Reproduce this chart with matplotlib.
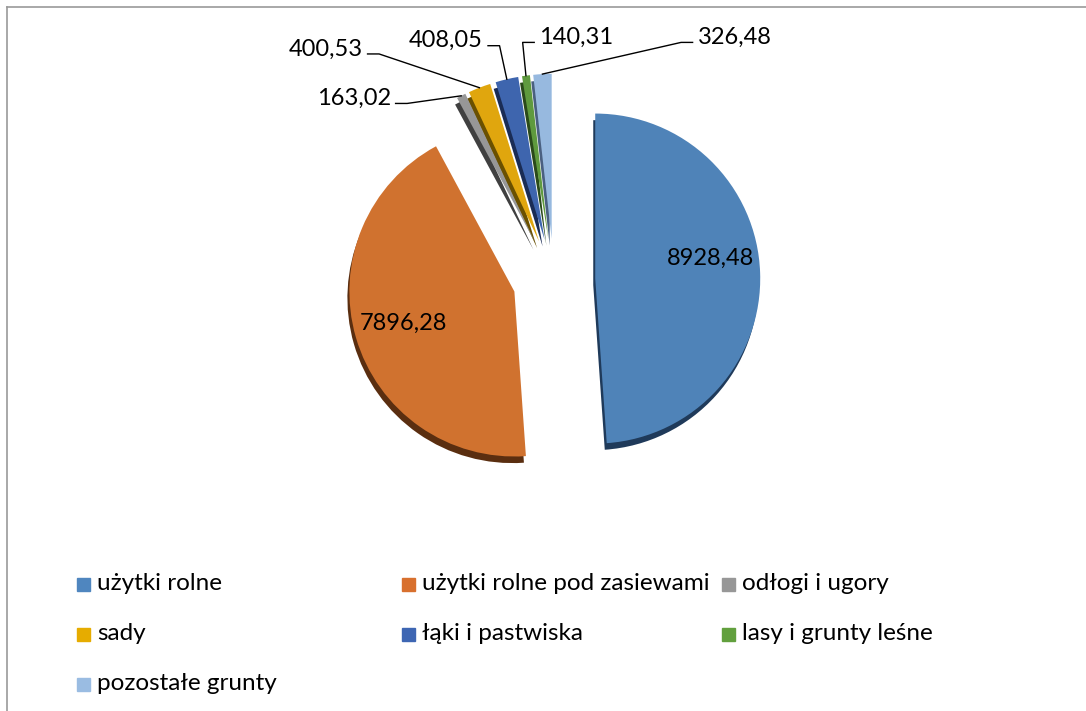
import matplotlib.pyplot as plt
import numpy as np

plt.rcParams["font.family"] = ["Lato", "DejaVu Sans"]

# Data
categories = [
    "użytki rolne",
    "użytki rolne pod zasiewami",
    "odłogi i ugory",
    "sady",
    "łąki i pastwiska",
    "lasy i grunty leśne",
    "pozostałe grunty",
]
values = [8928.48, 7896.28, 163.02, 400.53, 408.05, 140.31, 326.48]
value_labels = ["8928,48", "7896,28", "163,02", "400,53", "408,05", "140,31", "326,48"]

colors = ["#4F83B8", "#D0722F", "#979797", "#E0A60E", "#3E65AE", "#5F9A3E", "#97B9DF"]
shadow_colors = ["#1F3A5A", "#5A2E10", "#404040", "#6A5000", "#1A2C55", "#2A4A1A", "#4A6080"]
legend_colors = ["#4F86BF", "#D8702E", "#979797", "#E6AC00", "#3E66B3", "#62A03E", "#9ABCE2"]

# label placement for the small slices (data units, radius = 1)
outside_pos = {2: (-0.99, 1.10), 3: (-1.16, 1.40), 4: (-0.43, 1.45), 5: (-0.09, 1.47), 6: (0.87, 1.47)}

W, H = 1086, 711
scale = 165.0  # px per radius
cx, cy = 554, 280

fig = plt.figure(figsize=(W / 100, H / 100), dpi=100)
ax = fig.add_axes([0, 0, 1, 1])
explode = [0.25] * len(values)

# dark rim under the slices
ax.pie(values, explode=explode, colors=shadow_colors, startangle=90,
       counterclock=False, center=(-0.012, -0.04),
       wedgeprops=dict(linewidth=0))
wedges, _ = ax.pie(values, explode=explode, colors=colors, startangle=90,
                   counterclock=False, wedgeprops=dict(linewidth=0))

for i, w in enumerate(wedges):
    mid = np.deg2rad((w.theta1 + w.theta2) / 2)
    wx, wy = w.center
    if i < 2:
        r = 0.7
        dy = 0.1 if i == 0 else 0.0
        ax.text(wx + r * np.cos(mid), wy + r * np.sin(mid) + dy, value_labels[i],
                ha="center", va="center", fontsize=17, color="black")
    else:
        tx, ty = outside_pos[i]
        px, py = wx + np.cos(mid), wy + np.sin(mid)
        right = tx > px
        ha = "left" if right else "right"
        ax.text(tx, ty, value_labels[i], ha=ha, va="center", fontsize=17)
        gap = 0.03 if not right else -0.03
        x0 = tx + gap
        x1 = x0 + (0.07 if not right else -0.07)
        ax.plot([x0, x1, px], [ty - 0.03, ty - 0.03, py], color="black", linewidth=1)

ax.set_xlim(-cx / scale, (W - cx) / scale)
ax.set_ylim(-(H - cy) / scale, cy / scale)
ax.set_aspect("auto")
ax.axis("off")

# legend, drawn by hand in a 3-column grid
col_x = [77, 402, 722]
row_y = [584, 634, 684]
for i, (name, c) in enumerate(zip(categories, legend_colors)):
    x = col_x[i % 3]
    y = row_y[i // 3]
    fig.patches.append(plt.Rectangle((x / W, 1 - (y + 7) / H), 13 / W, 13 / H,
                                     transform=fig.transFigure, color=c))
    fig.text((x + 20) / W, 1 - y / H, name, ha="left", va="center", fontsize=17.5)

# chart border (top and left visible)
fig.add_artist(plt.Line2D([7 / W, 7 / W], [0, 1 - 7 / H], transform=fig.transFigure,
                          color="#9A9A9A", linewidth=1.2))
fig.add_artist(plt.Line2D([7 / W, 1], [1 - 7 / H, 1 - 7 / H], transform=fig.transFigure,
                          color="#9A9A9A", linewidth=1.2))

fig.savefig("out.png", dpi=100)
